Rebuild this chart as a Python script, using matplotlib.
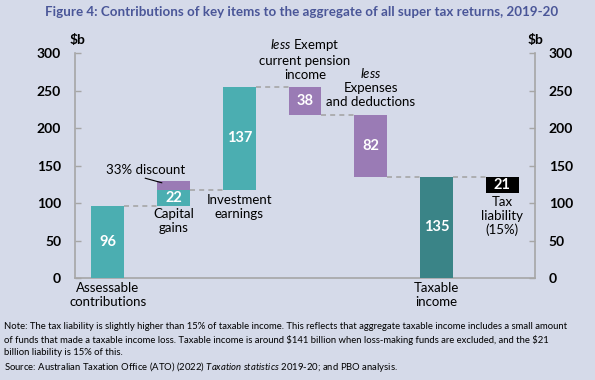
import matplotlib
matplotlib.use('Agg')
import matplotlib.pyplot as plt

plt.rcParams['font.family'] = ['Lato', 'DejaVu Sans']
plt.rcParams['mathtext.fontset'] = 'custom'
plt.rcParams['mathtext.rm'] = 'Lato'
plt.rcParams['mathtext.it'] = 'Lato:italic'
plt.rcParams['mathtext.bf'] = 'Lato:bold'

# waterfall data ($b)
steps = ['Assessable contributions', 'Capital gains', 'Investment earnings',
         'Exempt current pension income', 'Expenses and deductions',
         'Taxable income', 'Tax liability']
values = [96, 22, 137, -38, -82, 135, -21]
discount = 11   # 33% CGT discount stacked on capital gains
yticks = [0, 50, 100, 150, 200, 250, 300]

bg = '#D5DAE9'
teal = '#4BAEB1'
purple = '#9A7BB5'
dark_teal = '#3A8487'
grey = '#A6A6A6'

# running totals -> bar bottoms/tops
bottoms, tops = [], []
level = 0
for i, v in enumerate(values):
    if steps[i] == 'Taxable income':
        b, t = 0, v
        level = v
    else:
        b, t = sorted([level, level + v])
        level = level + v
    bottoms.append(b)
    tops.append(t)

fig = plt.figure(figsize=(5.95, 3.8), dpi=100, facecolor=bg)
ax = fig.add_axes([75/595, 1 - 278/380, 460/595, 225/380])
ax.set_facecolor(bg)

colors = [teal, teal, teal, purple, purple, dark_teal, 'black']
w = 0.5
x = list(range(len(values)))
ax.bar(x, [t - b for b, t in zip(bottoms, tops)], bottom=bottoms, width=w,
       color=colors, zorder=3)
# discount on top of capital gains
ax.bar(1, discount, bottom=tops[1], width=w, color=purple, zorder=3)

# connectors
conn = [tops[0], tops[1], tops[2], bottoms[3], bottoms[4], tops[5]]
for i, lv in enumerate(conn):
    ax.plot([i + w/2, i + 1 - w/2], [lv, lv], color=grey, ls=(0, (3, 2.5)), lw=1.2, zorder=2)

# value labels
for i, v in enumerate(values):
    ax.text(i, (bottoms[i] + tops[i]) / 2, str(abs(v)), ha='center', va='center',
            color='white', fontsize=10.5, fontweight='bold', zorder=4)

ax.set_xlim(-0.5, 6.5)
ax.set_ylim(0, 300)
ax.set_yticks(yticks)
ax.set_xticks([])
for s in ['left', 'right', 'bottom']:
    ax.spines[s].set_color(grey)
    ax.spines[s].set_linewidth(1.2)
ax.spines['top'].set_visible(False)
ax.tick_params(axis='y', direction='in', length=4, width=1, color=grey, pad=10,
               labelsize=10, left=True, right=True, labelleft=True, labelright=True)
for lab in ax.get_yticklabels():
    lab.set_fontweight('bold')

tfs = 9.5
ls = 1.2
ax.text(0, -6, 'Assessable\ncontributions', ha='center', va='top', fontsize=tfs, linespacing=ls)
ax.text(1, 93, 'Capital\ngains', ha='center', va='top', fontsize=tfs, linespacing=ls)
ax.text(2, 112, 'Investment\nearnings', ha='center', va='top', fontsize=tfs, linespacing=ls)
ax.text(0.58, 144, '33% discount', ha='center', va='center', fontsize=tfs)
ax.plot([0.57, 0.82], [133, 127], color='black', lw=0.8, zorder=4, clip_on=False)
ax.text(3, 322, '$\\it{less}$ Exempt\ncurrent pension\nincome', ha='center', va='top',
        fontsize=tfs, linespacing=ls)
ax.text(4, 283, '$\\it{less}$\nExpenses\nand deductions', ha='center', va='top',
        fontsize=tfs, linespacing=ls)
ax.text(5, -6, 'Taxable\nincome', ha='center', va='top', fontsize=tfs, linespacing=ls)
ax.text(6, 110, 'Tax\nliability\n(15%)', ha='center', va='top', fontsize=tfs, linespacing=ls)

fig.text(77/595, 1 - 40/380, '\\$b', ha='center', va='center', fontsize=10, fontweight='bold')
fig.text(535/595, 1 - 40/380, '\\$b', ha='center', va='center', fontsize=10, fontweight='bold')

fig.text(302/595, 1 - 12/380,
         'Figure 4: Contributions of key items to the aggregate of all super tax returns, 2019-20',
         ha='center', va='center', fontsize=9.6, fontweight='bold', color='#4A5698')

note = ('Note: The tax liability is slightly higher than 15% of taxable income. This reflects that aggregate taxable income includes a small amount\n'
        'of funds that made a taxable income loss. Taxable income is around \\$141 billion when loss-making funds are excluded, and the \\$21\n'
        'billion liability is 15% of this.')
fig.text(4/595, 1 - 322/380, note, ha='left', va='top', fontsize=6.8, linespacing=1.45)
fig.text(4/595, 1 - 360/380,
         'Source: Australian Taxation Office (ATO) (2022) $\\it{Taxation\\ statistics\\ 2019}$-20; and PBO analysis.',
         ha='left', va='top', fontsize=6.8)

fig.savefig('out.png', dpi=100, facecolor=bg)
